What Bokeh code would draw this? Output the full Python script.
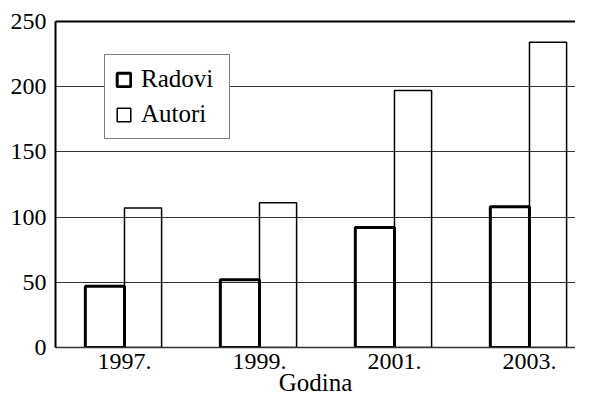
from bokeh.plotting import figure
from bokeh.models import Range1d, FixedTicker, LinearAxis, Legend, LegendItem, ColumnDataSource
from bokeh.embed import file_html
from bokeh.resources import INLINE

years = ["1997.", "1999.", "2001.", "2003."]
radovi = [47, 52, 92, 108]
autori = [107, 111, 197, 234]
y_ticks = [0, 50, 100, 150, 200, 250]

FONT = "Liberation Serif"
idx = list(range(len(years)))
w_r = 0.29
w_a = 0.275

src = ColumnDataSource(dict(
    xr=[i - w_r / 2 for i in idx],
    xa=[i + w_a / 2 for i in idx],
    radovi=radovi,
    autori=autori,
))

p = figure(width=575, height=398, output_backend="svg", toolbar_location=None,
           x_range=Range1d(-0.511, 3.341), y_range=Range1d(0, 250),
           min_border_left=55, min_border_top=21, min_border_bottom=48, min_border_right=0)
p.outline_line_color = None
p.background_fill_color = "white"
p.border_fill_color = "white"

r1 = p.vbar(x="xr", width=w_r, top="radovi", bottom=0, source=src,
            fill_color=None, line_color="black", line_width=3)
r2 = p.vbar(x="xa", width=w_a, top="autori", bottom=0, source=src,
            fill_color=None, line_color="black", line_width=1.5)

# y axis
yax = p.yaxis[0]
yax.ticker = FixedTicker(ticks=y_ticks)
yax.major_tick_out = 0
yax.major_tick_in = 0
yax.minor_tick_line_color = None
yax.axis_line_width = 2
yax.axis_line_color = "black"
yax.major_label_text_font = FONT
yax.major_label_text_font_size = "24px"
yax.major_label_text_color = "black"
yax.major_label_standoff = 9

# x axis
xax = p.xaxis[0]
xax.ticker = FixedTicker(ticks=idx)
xax.major_label_overrides = {i: y for i, y in zip(idx, years)}
xax.major_tick_out = 0
xax.major_tick_in = 0
xax.minor_tick_line_color = None
xax.axis_line_width = 1.5
xax.axis_line_color = "#333333"
xax.major_label_text_font = FONT
xax.major_label_text_font_size = "24px"
xax.major_label_text_color = "black"
xax.major_label_standoff = 6
xax.axis_label = "Godina"
xax.axis_label_text_font = FONT
xax.axis_label_text_font_size = "25px"
xax.axis_label_text_font_style = "normal"
xax.axis_label_text_color = "black"
xax.axis_label_standoff = -3

# top frame line
top = LinearAxis(ticker=FixedTicker(ticks=[]), major_tick_out=0, major_tick_in=0,
                 minor_tick_line_color=None, major_label_text_font_size="0px",
                 axis_line_width=2, axis_line_color="black")
p.add_layout(top, "above")

p.xgrid.grid_line_color = None
p.ygrid.ticker = FixedTicker(ticks=y_ticks)
p.ygrid.grid_line_color = "#333333"
p.ygrid.grid_line_width = 1

legend = Legend(items=[LegendItem(label="Radovi", renderers=[r1]),
                       LegendItem(label="Autori", renderers=[r2])],
                location=(49, 208))
legend.label_text_font = FONT
legend.label_text_font_size = "25px"
legend.label_text_color = "black"
legend.glyph_width = 17
legend.glyph_height = 17
legend.label_standoff = 9
legend.label_width = 78
legend.spacing = 7
legend.padding = 10
legend.border_line_color = "black"
legend.border_line_width = 1.3
legend.background_fill_alpha = 1
p.add_layout(legend)

open("out.html", "w").write(file_html(p, INLINE))
